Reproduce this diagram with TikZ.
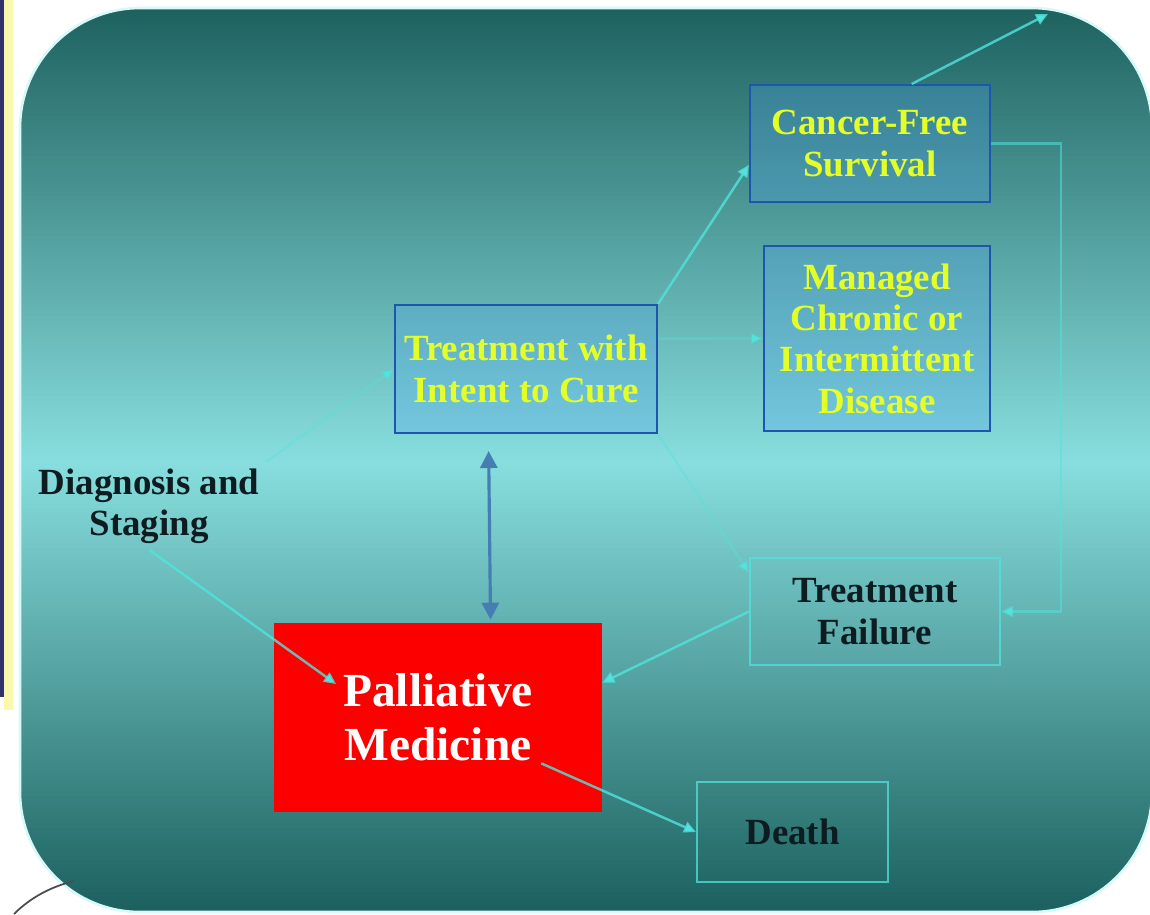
\documentclass[tikz,border=0pt]{standalone}
\usepackage{fontspec}
\setmainfont{Liberation Serif}
\usetikzlibrary{arrows.meta,calc}

\definecolor{bgtop}{RGB}{30,98,96}
\definecolor{bgmid}{RGB}{136,222,222}
\definecolor{bgbot}{RGB}{27,96,94}
\definecolor{flow}{RGB}{80,228,222}
\definecolor{boxblue}{RGB}{30,85,175}
\definecolor{boxfill}{RGB}{80,160,240}
\definecolor{cureyellow}{RGB}{228,255,40}
\definecolor{darktext}{RGB}{12,28,32}
\definecolor{redbox}{RGB}{252,0,0}
\definecolor{steel}{RGB}{70,125,178}
\definecolor{navystrip}{RGB}{50,50,110}
\definecolor{palestrip}{RGB}{250,248,175}
\definecolor{rimglow}{RGB}{215,250,248}

\newcommand\lblfont{\fontsize{21}{23.5}\selectfont\bfseries}
\newcommand\bigfont{\fontsize{27}{31}\selectfont\bfseries}

\begin{document}
\begin{tikzpicture}[x=0.02cm,y=-0.02cm,
  bluebox/.style={draw=boxblue, line width=1.2pt, fill=boxfill, fill opacity=0.28,
    text opacity=1, text=cureyellow, font=\lblfont, align=center, inner sep=0pt},
  cyanbox/.style={draw=flow, draw opacity=0.75, line width=1.2pt, text=darktext,
    font=\lblfont, align=center, inner sep=0pt},
  flowline/.style={draw=flow, line width=1.4pt, draw opacity=0.8,
    -{Triangle[length=2.4mm,width=2.2mm]}},
  faintline/.style={flowline, draw opacity=0.35},
  twoway/.style={draw=steel, line width=1.8pt,
    {Triangle[length=3.4mm,width=3.4mm]}-{Triangle[length=3.4mm,width=3.4mm]}}
]
\useasboundingbox (0,0) rectangle (1150,914);

% page edge strip on the left
\fill[navystrip] (0,0) rectangle (4,697);
\fill[palestrip] (4,0) rectangle (13,710);

% rounded panel: vertical teal gradient built from thin bands
\begin{scope}
  \clip[rounded corners=2.4cm] (20,8) rectangle (1152,912);
  \foreach \k in {0,...,226} {
    \pgfmathsetmacro\ytop{8+4*\k}
    \pgfmathsetmacro\tmix{\ytop<460 ? (\ytop-8)/452*100 : (912-\ytop)/452*100}
    \pgfmathsetmacro\tmix{max(0,min(100,\tmix))}
    \ifdim\ytop pt<460pt
      \fill[bgmid!\tmix!bgtop] (0,\ytop) rectangle (1152,\ytop+4.6);
    \else
      \fill[bgmid!\tmix!bgbot] (0,\ytop) rectangle (1152,\ytop+4.6);
    \fi
  }
\end{scope}
\draw[rimglow, line width=1.5pt, rounded corners=2.4cm] (20,8) rectangle (1152,912);

% partial emblem at the lower left corner
\draw[black!70, line width=1pt] (14,914) .. controls (30,898) and (50,887) .. (74,881);

% nodes
\node[font=\lblfont, text=darktext, align=center] (diag) at (149,506)
  {Diagnosis and\\Staging};
\node[bluebox, minimum width=5.24cm, minimum height=2.56cm] (treat) at (526,369)
  {Treatment with\\Intent to Cure};
\node[bluebox, minimum width=4.8cm, minimum height=2.34cm] (cfs) at (870,143.5)
  {Cancer-Free\\Survival};
\node[bluebox, minimum width=4.52cm, minimum height=3.7cm] (mcd) at (877,338.5)
  {Managed\\Chronic or\\Intermittent\\Disease};
\node[cyanbox, minimum width=5.0cm, minimum height=2.14cm] (tf) at (875,611.5)
  {Treatment\\Failure};
\node[fill=redbox, text=white, font=\bigfont, align=center, inner sep=0pt,
  minimum width=6.56cm, minimum height=3.78cm] (pall) at (438,717.5)
  {Palliative\\Medicine};
\node[cyanbox, minimum width=3.82cm, minimum height=2.0cm] (death) at (792.5,832)
  {Death};

% free ends of connectors
\coordinate (pallin) at (336,684);
\coordinate (corner) at (1048,14);

% connectors
\draw[faintline] (diag.north east) -- (treat.west);
\draw[flowline] (diag.south) -- (pallin);
\draw[flowline] (treat.north east) -- (cfs.190);
\draw[faintline] (treat.13.7) -- (mcd.west);
\draw[faintline] (treat.south east) -- (tf.163);
\draw[flowline] (tf.west) -- (pall.12);
\draw[flowline] ($(pall.center)!0.4!(death.west)$) -- (death.west);
\draw[flowline, draw opacity=0.55] (cfs.east) -- ++(70,0) |- (tf.east);
\draw[flowline] (cfs.55.6) -- (corner);
\draw[twoway, shorten <=0.34cm, shorten >=0.06cm] (treat.240.6) -- (pall.61.2);
\end{tikzpicture}
\end{document}
